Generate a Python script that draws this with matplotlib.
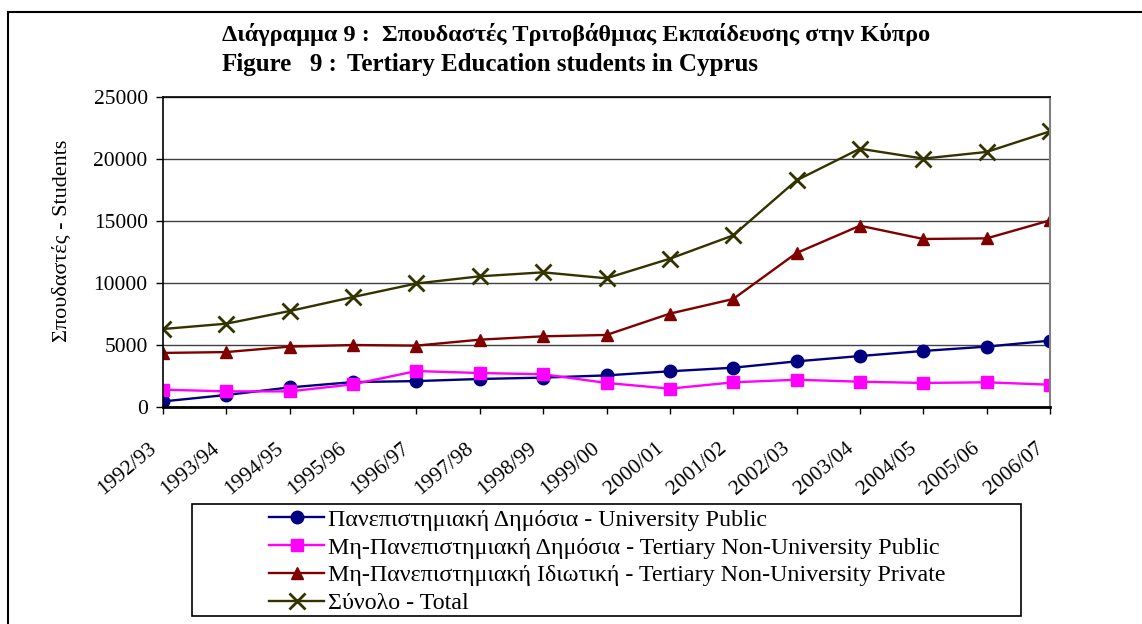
# Tertiary education students in Cyprus, 1992/93 - 2006/07

import matplotlib
matplotlib.use("Agg")
import matplotlib.pyplot as plt
from matplotlib.lines import Line2D
from matplotlib.patches import Rectangle
from matplotlib.transforms import ScaledTranslation

plt.rcParams["font.family"] = ["Liberation Serif", "DejaVu Serif"]

# Data
years = ["1992/93", "1993/94", "1994/95", "1995/96", "1996/97", "1997/98",
         "1998/99", "1999/00", "2000/01", "2001/02", "2002/03", "2003/04",
         "2004/05", "2005/06", "2006/07"]
univ_public = [450, 970, 1580, 2010, 2090, 2260, 2370, 2550, 2880, 3170,
               3680, 4110, 4520, 4870, 5350]
nonuniv_public = [1400, 1260, 1260, 1830, 2900, 2740, 2640, 1940, 1480, 1990,
                  2200, 2040, 1940, 1990, 1800]
nonuniv_private = [4360, 4430, 4870, 5000, 4950, 5430, 5700, 5810, 7530, 8710,
                   12420, 14620, 13550, 13600, 15050]
total = [6290, 6720, 7740, 8870, 9960, 10540, 10860, 10380, 11960, 13840,
         18280, 20830, 20030, 20570, 22230]

labels = ["Πανεπιστημιακή Δημόσια - University Public",
          "Μη-Πανεπιστημιακή Δημόσια - Tertiary Non-University Public",
          "Μη-Πανεπιστημιακή Ιδιωτική - Tertiary Non-University Private",
          "Σύνολο - Total"]

W, H = 1142, 624
fig = plt.figure(figsize=(W / 100, H / 100), dpi=100)
ax = fig.add_axes([163 / W, 1 - 407 / H, (1050 - 163) / W, (407 - 97) / H])

x = range(len(years))
ax.plot(x, univ_public, color="#000080", lw=1.7, marker="o", ms=9,
        label=labels[0])
ax.plot(x, nonuniv_public, color="#FF00FF", lw=1.7, marker="s", ms=9,
        label=labels[1])
ax.plot(x, nonuniv_private, color="#800000", lw=1.7, marker="^", ms=9,
        label=labels[2])
ax.plot(x, total, color="#333300", lw=1.7, marker="x", ms=11, mew=2,
        label=labels[3])

ax.set_xlim(0, len(years) - 1)
ax.set_ylim(0, 25000)
ax.set_yticks(range(0, 25001, 5000))
ax.set_xticks(list(x))
ax.set_xticklabels([])

# category labels, slanted and set a little below/left of each tick
shift = ScaledTranslation(-15 / 100, -32 / 100, fig.dpi_scale_trans)
for i, yr in zip(x, years):
    ax.text(i, 0, yr, transform=ax.get_xaxis_transform() + shift,
            rotation=40, rotation_mode="anchor", ha="right", va="top",
            fontsize=15.5)

ax.tick_params(axis="y", labelsize=15.5, length=5, width=1, pad=6)
ax.tick_params(axis="x", length=5, width=1)
ax.yaxis.grid(True, color="#404040", lw=1)
ax.set_axisbelow(True)

for side in ["left", "top"]:
    ax.spines[side].set_linewidth(1.2)
ax.spines["bottom"].set_linewidth(2)
ax.spines["right"].set_color("#808080")
ax.spines["right"].set_linewidth(1.5)

fig.text(62 / W, 1 - 241 / H, "Σπουδαστές - Students", rotation=90,
         ha="center", va="center", fontsize=16)

# Title
fig.text(222 / W, 1 - 41 / H,
         "Διάγραμμα 9 :  Σπουδαστές Τριτοβάθμιας Εκπαίδευσης στην Κύπρο",
         ha="left", va="baseline", fontsize=17.5, fontweight="bold")
fig.text(222 / W, 1 - 71 / H, "Figure", ha="left", va="baseline",
         fontsize=18, fontweight="bold")
fig.text(310 / W, 1 - 71 / H, "9 :", ha="left", va="baseline",
         fontsize=18, fontweight="bold")
fig.text(347 / W, 1 - 71 / H, "Tertiary Education students in Cyprus",
         ha="left", va="baseline", fontsize=18, fontweight="bold")

# Legend box and entries
fig.patches.append(Rectangle((192 / W, 1 - 616 / H), (1021 - 192) / W,
                             (616 - 504) / H, transform=fig.transFigure,
                             fill=False, edgecolor="black", lw=1.2))
fig.legend(loc="upper left", bbox_to_anchor=(269 / W, 1 - 509 / H),
           frameon=False, fontsize=17.3, handlelength=2.3, handletextpad=0.15,
           labelspacing=0.25, borderpad=0, borderaxespad=0)

# Outer frame
fig.add_artist(Line2D([8 / W, 1], [1 - 12 / H, 1 - 12 / H],
                      transform=fig.transFigure, color="black", lw=1.5))
fig.add_artist(Line2D([8 / W, 8 / W], [1 - 12 / H, 0],
                      transform=fig.transFigure, color="black", lw=1.5))

plt.savefig("out.png", dpi=100)
